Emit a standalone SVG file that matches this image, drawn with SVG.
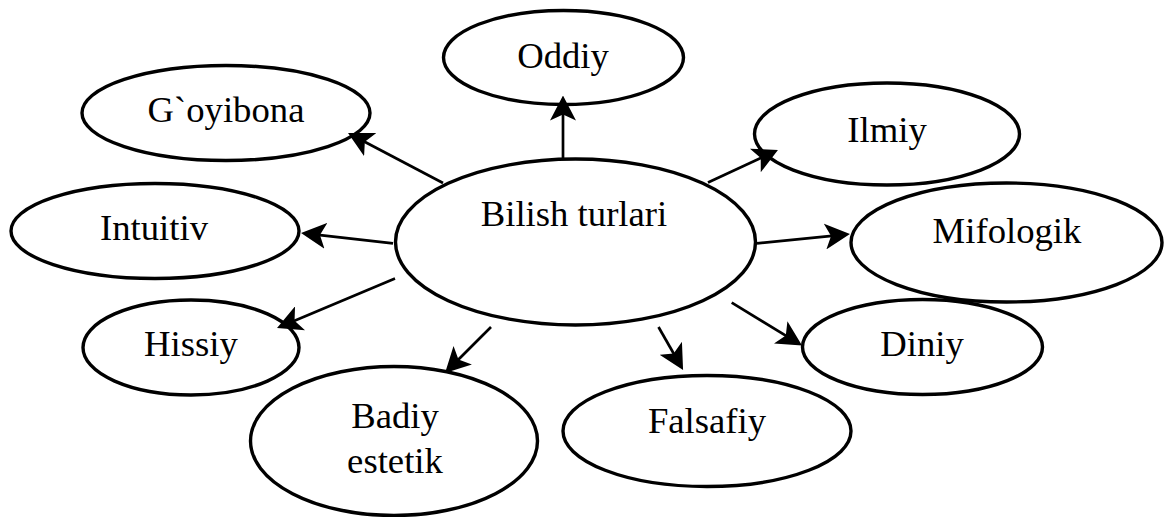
<svg xmlns="http://www.w3.org/2000/svg" width="1176" height="517" viewBox="0 0 1176 517">
<style>
.n ellipse{fill:none;stroke:#000;stroke-width:3.4}
.n text{font-family:"Liberation Serif","Times New Roman",serif;font-size:36.7px;fill:#000;text-anchor:middle}
.c line{stroke:#000;stroke-width:2.7;marker-end:url(#ah)}
</style>
<defs>
<marker id="ah" markerUnits="userSpaceOnUse" viewBox="0 0 25 26" markerWidth="25" markerHeight="26" refX="17" refY="13" orient="auto">
<path d="M25,13 L0,0 L6,13 L0,26 Z" fill="#000"/>
</marker>
</defs>
<g id="n-bilish" class="n"><ellipse cx="575.5" cy="242" rx="180" ry="83"/><text x="574" y="226">Bilish turlari</text></g>
<g id="n-oddiy" class="n"><ellipse cx="563.5" cy="57.5" rx="120" ry="47"/><text x="563" y="68">Oddiy</text></g>
<g id="n-goyibona" class="n"><ellipse cx="226" cy="113" rx="144" ry="47.5"/><text x="226" y="122">G`oyibona</text></g>
<g id="n-ilmiy" class="n"><ellipse cx="887" cy="134" rx="132.5" ry="51"/><text x="887" y="142">Ilmiy</text></g>
<g id="n-intuitiv" class="n"><ellipse cx="155" cy="231" rx="144" ry="47.5"/><text x="154" y="240">Intuitiv</text></g>
<g id="n-mifologik" class="n"><ellipse cx="1006.5" cy="242.5" rx="155.5" ry="59.5"/><text x="1007" y="243">Mifologik</text></g>
<g id="n-hissiy" class="n"><ellipse cx="191" cy="347.5" rx="108" ry="47.5"/><text x="191" y="356">Hissiy</text></g>
<g id="n-diniy" class="n"><ellipse cx="922.5" cy="347" rx="120" ry="47.5"/><text x="922" y="355.5">Diniy</text></g>
<g id="n-badiy" class="n"><ellipse cx="394" cy="441" rx="143.5" ry="74.5"/><text x="395" y="428">Badiy</text><text x="395" y="472.5">estetik</text></g>
<g id="n-falsafiy" class="n"><ellipse cx="707" cy="431" rx="144" ry="55.5"/><text x="707" y="433">Falsafiy</text></g>
<g id="connectors" class="c">
<line x1="563" y1="159" x2="563" y2="103.5"/>
<line x1="443" y1="183" x2="355.1" y2="136.7"/>
<line x1="708" y1="182.5" x2="770.7" y2="153.3"/>
<line x1="393" y1="243.3" x2="309" y2="233.9"/>
<line x1="757" y1="243.3" x2="842" y2="234.8"/>
<line x1="395" y1="278.5" x2="284.4" y2="324.9"/>
<line x1="491" y1="327" x2="450.7" y2="367.3"/>
<line x1="658.5" y1="327" x2="679.1" y2="363"/>
<line x1="731.7" y1="302.7" x2="795.2" y2="341.3"/>
</g>
</svg>
